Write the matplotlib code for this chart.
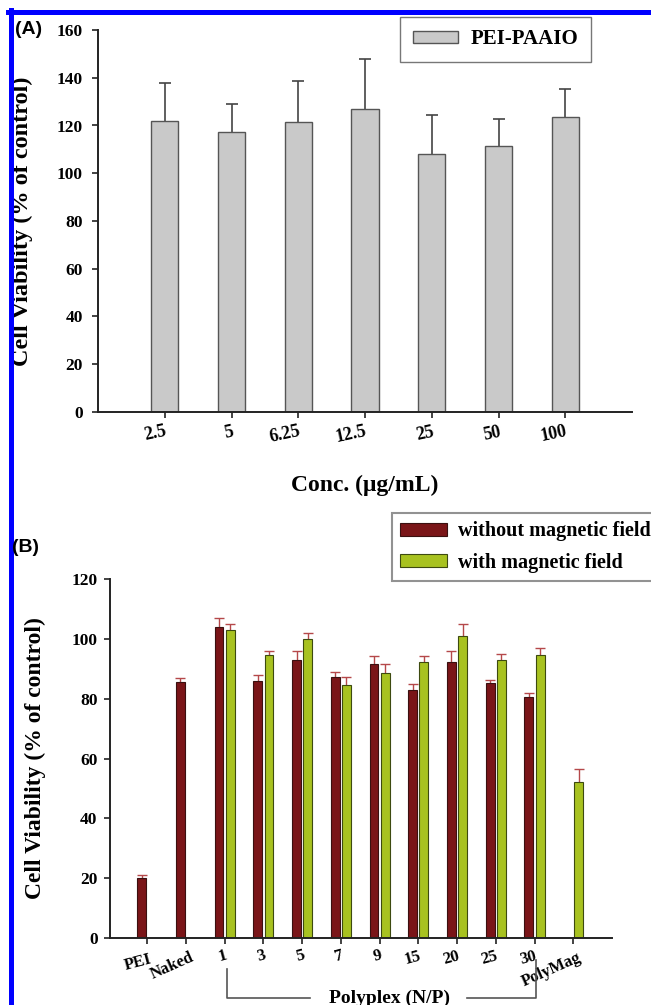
import matplotlib
matplotlib.use("Agg")
import matplotlib.pyplot as plt
import matplotlib.transforms as mtransforms
from matplotlib.lines import Line2D
import numpy as np

plt.rcParams['font.family'] = ['Liberation Serif', 'DejaVu Serif']
plt.rcParams['font.weight'] = 'bold'

# panel A data
conc_labels = ['2.5', '5', '6.25', '12.5', '25', '50', '100']
viab_a = [121.8, 117.4, 121.5, 126.9, 108.2, 111.4, 123.7]
err_a = [16.1, 11.7, 17.0, 21.1, 16.3, 11.2, 11.7]

# panel B data
groups_b = ['PEI', 'Naked', '1', '3', '5', '7', '9', '15', '20', '25', '30', 'PolyMag']
without_field = [20.0, 85.5, 103.9, 86.0, 93.0, 87.1, 91.5, 82.9, 92.4, 85.3, 80.6, np.nan]
without_err = [1.1, 1.3, 3.0, 2.0, 2.8, 1.8, 2.9, 1.9, 3.4, 1.1, 1.4, np.nan]
with_field = [np.nan, np.nan, 103.1, 94.6, 100.1, 84.6, 88.7, 92.4, 101.1, 93.0, 94.5, 52.3]
with_err = [np.nan, np.nan, 1.8, 1.2, 1.7, 2.5, 3.0, 2.0, 3.7, 2.0, 2.3, 4.1]

W, H = 651, 1005
fig = plt.figure(figsize=(W / 100, H / 100), dpi=100)

def px_axes(left, top, right, bottom):
    return fig.add_axes([left / W, 1 - bottom / H, (right - left) / W, (bottom - top) / H])

def style_axes(ax):
    for s in ['top', 'right']:
        ax.spines[s].set_visible(False)
    for s in ['left', 'bottom']:
        ax.spines[s].set_linewidth(1.4)
        ax.spines[s].set_color('#222222')
    ax.tick_params(direction='out', length=4, width=1.2, color='#222222')

def upper_err(ax, x, y, err, color, lw, capw):
    # only the upper half of the error bar, like the original
    y = np.asarray(y, float)
    top = y + np.asarray(err, float)
    ax.vlines(x, y, top, color=color, lw=lw, zorder=1)
    ax.plot(x, top, ls='none', marker='_', markersize=capw, markeredgewidth=lw,
            color=color, zorder=1)

# ---------- (A) ----------
ax1 = px_axes(98, 30, 632, 412)
style_axes(ax1)
x1 = np.arange(len(conc_labels))
ax1.bar(x1, viab_a, width=0.41, color='#c9c9c9', edgecolor='#555555', linewidth=1.0,
        label='PEI-PAAIO', zorder=2)
upper_err(ax1, x1, viab_a, err_a, '#444444', 1.2, 9)
ax1.set_xlim(-1, 7)
ax1.set_ylim(0, 160)
ax1.set_yticks(np.arange(0, 161, 20))
ax1.tick_params(axis='y', labelsize=12.5, pad=7)
ax1.tick_params(axis='x', labelsize=13, pad=4)
ax1.set_xticks(x1)
ax1.set_xticklabels(conc_labels, rotation=12, ha='right', rotation_mode='anchor')
ax1.set_ylabel('Cell Viability (% of control)', fontsize=17.5, fontweight='bold')
ax1.yaxis.set_label_coords((33 - 98) / 534, 0.5)
fig.text(365 / W, 1 - 485 / H, 'Conc. (\u03bcg/mL)', fontsize=17, fontweight='bold',
         ha='center', va='center')
leg1 = ax1.legend(loc='upper left', bbox_to_anchor=(400 / W, 1 - 17 / H),
                  bbox_transform=fig.transFigure, fancybox=False, frameon=True,
                  prop={'size': 15, 'weight': 'bold'}, handlelength=2.2,
                  handleheight=0.5, handletextpad=0.6, borderpad=0.6, borderaxespad=0)
leg1.get_frame().set_edgecolor('#555555')
leg1.get_frame().set_linewidth(1.0)
fig.text(15 / W, 1 - 30 / H, '(A)', family='Liberation Sans', fontsize=14,
         fontweight='bold', va='center')

# ---------- (B) ----------
ax2 = px_axes(110, 579, 612, 938)
style_axes(ax2)
x2 = np.arange(len(groups_b))
bw, off = 0.23, 0.145
ax2.bar(x2 - off, without_field, width=bw, color='#7a1518', edgecolor='#3a1010',
        linewidth=0.8, label='without magnetic field', zorder=2)
ax2.bar(x2 + off, with_field, width=bw, color='#a8c220', edgecolor='#3d4a10',
        linewidth=0.8, label='with magnetic field', zorder=2)
upper_err(ax2, x2 - off, without_field, without_err, '#b5484a', 1.0, 7)
upper_err(ax2, x2 + off, with_field, with_err, '#b5484a', 1.0, 7)
ax2.set_xlim(-0.96, 12.0)
ax2.set_ylim(0, 120)
ax2.set_yticks(np.arange(0, 121, 20))
ax2.tick_params(axis='y', labelsize=12.5, pad=5)
ax2.tick_params(axis='x', labelsize=12, pad=3)
ax2.set_xticks(x2)
ax2.set_xticklabels(groups_b, rotation=15, ha='right', rotation_mode='anchor')
for lbl in ax2.get_xticklabels():
    if lbl.get_text() in ('Naked', 'PolyMag'):
        lbl.set_rotation(24)
        lbl.set_transform(lbl.get_transform() +
                          mtransforms.ScaledTranslation(0.04, -0.02, fig.dpi_scale_trans))
    elif lbl.get_text() == 'PEI':
        lbl.set_transform(lbl.get_transform() +
                          mtransforms.ScaledTranslation(0.02, -0.04, fig.dpi_scale_trans))
ax2.set_ylabel('Cell Viability (% of control)', fontsize=17, fontweight='bold')
ax2.yaxis.set_label_coords((46 - 110) / 502, 0.5)
leg2 = ax2.legend(loc='upper left', mode='expand',
                  bbox_to_anchor=(392 / W, 1 - 513 / H, 300 / W, 0),
                  bbox_transform=fig.transFigure, fancybox=False, frameon=True,
                  prop={'size': 14.5, 'weight': 'bold'}, handlelength=2.3,
                  handleheight=0.6, handletextpad=0.55, borderpad=0.42,
                  labelspacing=0.55, borderaxespad=0)
leg2.get_frame().set_edgecolor('#777777')
leg2.get_frame().set_linewidth(1.5)
fig.text(12 / W, 1 - 547 / H, '(B)', family='Liberation Sans', fontsize=14,
         fontweight='bold', va='center')

# bracket under the polyplex groups
bt = mtransforms.blended_transform_factory(ax2.transData, ax2.transAxes)
i_first, i_last = groups_b.index('1'), groups_b.index('30')
ax2.plot([i_first + 0.07, i_first + 0.07, i_first + 2.2], [-0.085, -0.167, -0.167],
         color='#555555', lw=1.2, transform=bt, clip_on=False)
ax2.plot([i_last - 1.75, i_last + 0.03, i_last + 0.03], [-0.167, -0.167, -0.06],
         color='#555555', lw=1.2, transform=bt, clip_on=False)
ax2.text((i_first + i_last) / 2 + 0.25, -0.167, 'Polyplex (N/P)', transform=bt,
         fontsize=14, fontweight='bold', ha='center', va='center')

# blue frame
fig.add_artist(Line2D([8 / W, 1], [1 - 12.5 / H, 1 - 12.5 / H], color='#0000ff', lw=3.6,
                      transform=fig.transFigure))
fig.add_artist(Line2D([10.5 / W, 10.5 / W], [1 - 10 / H, 0], color='#0000ff', lw=3.6,
                      transform=fig.transFigure))

fig.savefig('out.png', dpi=100)
